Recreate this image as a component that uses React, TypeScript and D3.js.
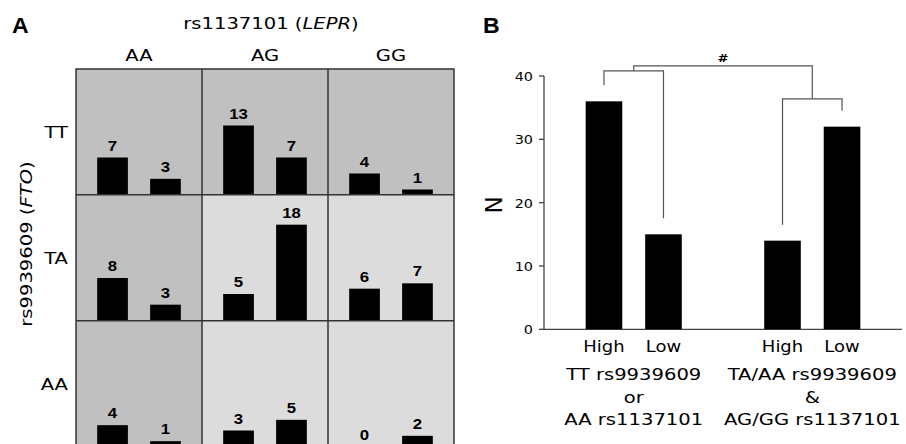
import React from "react";
import * as d3 from "d3";

// ---------- Data ----------
const rowGenotypes = ["TT", "TA", "AA"]; // rs9939609 (FTO)
const colGenotypes = ["AA", "AG", "GG"]; // rs1137101 (LEPR)
const highValues = [
  [7, 13, 4],
  [8, 5, 6],
  [4, 3, 0],
];
const lowValues = [
  [3, 7, 1],
  [3, 18, 7],
  [1, 5, 2],
];
const cellGroups = ["High", "Low"];

const bSlots = ["g1High", "g1Low", "gap", "g2High", "g2Low"];
const bLabels = ["High", "Low", "", "High", "Low"];
const bValues = [36, 15, null, 14, 32];
const bTicks = [0, 10, 20, 30, 40];
const groupLabels = [
  ["TT rs9939609", "or", "AA rs1137101"],
  ["TA/AA rs9939609", "&", "AG/GG rs1137101"],
];
const bracketLevels = [40.8, 36.4]; // inner brackets
const topBracketLevel = 41.6;

// ---------- Style ----------
const SX = 1.2;
const FONT = "'DejaVu Sans', Verdana, sans-serif";
const ARIAL = "'Liberation Sans', Arial, sans-serif";
const DARK = "#c0c0c0";
const LIGHT = "#dcdcdc";
const GRID = "#333";
const LINE = "#555";

function STxt({ x, y, size, anchor = "middle", weight = "normal", family = FONT, rotate = 0, sx = SX, fill = "#000", children }: any) {
  return (
    <text
      transform={`translate(${x},${y})${rotate ? ` rotate(${rotate})` : ""} scale(${sx},1)`}
      fontSize={size}
      textAnchor={anchor}
      fontWeight={weight}
      fontFamily={family}
      fill={fill}
    >
      {children}
    </text>
  );
}

export default function App() {
  // Panel A scales
  const xCol = d3.scaleBand<string>().domain(colGenotypes).range([76, 454]);
  const yRow = d3.scaleBand<string>().domain(rowGenotypes).range([69, 446.5]);
  const inner = d3
    .scaleBand<string>()
    .domain(cellGroups)
    .range([0, xCol.bandwidth()])
    .paddingInner(0.42)
    .paddingOuter(0.4);
  const hA = d3.scaleLinear().domain([0, 18]).range([0, 96]);

  // Panel B scales
  const xB = d3.scaleBand<string>().domain(bSlots).range([544, 902]).paddingInner(0.385).paddingOuter(0.7);
  const yB = d3.scaleLinear().domain([0, 40]).range([329.3, 76]);
  const cx = (k: string) => (xB(k) as number) + xB.bandwidth() / 2;
  const GAP = 16;

  const brackets = [
    { a: "g1High", b: "g1Low", level: bracketLevels[0] },
    { a: "g2High", b: "g2Low", level: bracketLevels[1] },
  ];
  const valOf = (k: string) => bValues[bSlots.indexOf(k)] as number;

  const mid0 = (cx(brackets[0].a) + cx(brackets[0].b)) / 2;
  const mid1 = (cx(brackets[1].a) + cx(brackets[1].b)) / 2;

  return (
    <svg width={906} height={444} style={{ position: "absolute", left: 0, top: 0, display: "block", background: "#fff" }}>
      {/* ---------- Panel A ---------- */}
      <STxt x={12} y={33} size={22} anchor="start" weight="bold" family={ARIAL} sx={1.05}>A</STxt>
      <STxt x={271} y={28.5} size={16.3}>
        rs1137101 (<tspan fontStyle="italic">LEPR</tspan>)
      </STxt>
      {colGenotypes.map((c) => (
        <STxt key={c} x={(xCol(c) as number) + xCol.bandwidth() / 2} y={61} size={16.3}>
          {c}
        </STxt>
      ))}
      {rowGenotypes.map((r) => (
        <STxt key={r} x={68} y={(yRow(r) as number) + yRow.bandwidth() / 2 + 6} size={16.3} anchor="end">
          {r}
        </STxt>
      ))}
      <STxt x={32} y={244} size={16.3} rotate={-90}>
        rs9939609 (<tspan fontStyle="italic">FTO</tspan>)
      </STxt>

      {rowGenotypes.map((r, ri) =>
        colGenotypes.map((c, ci) => {
          const x0 = xCol(c) as number;
          const y0 = yRow(r) as number;
          const base = y0 + yRow.bandwidth();
          const dark = ri === 0 || ci === 0;
          const vals = [highValues[ri][ci], lowValues[ri][ci]];
          return (
            <g key={r + c}>
              <rect x={x0} y={y0} width={xCol.bandwidth()} height={yRow.bandwidth()} fill={dark ? DARK : LIGHT} />
              {cellGroups.map((g, gi) => {
                const bx = x0 + (inner(g) as number);
                const h = hA(vals[gi]);
                return (
                  <g key={g}>
                    <rect x={bx} y={base - h} width={inner.bandwidth()} height={h} fill="#000" />
                    <STxt x={bx + inner.bandwidth() / 2} y={base - h - 7} size={14} weight="bold" family={ARIAL}>
                      {vals[gi]}
                    </STxt>
                  </g>
                );
              })}
            </g>
          );
        })
      )}
      {/* grid lines */}
      {colGenotypes.slice(1).map((c) => (
        <line key={"v" + c} x1={xCol(c)} x2={xCol(c)} y1={69} y2={446.5} stroke={GRID} strokeWidth={1.5} />
      ))}
      {rowGenotypes.slice(1).map((r) => (
        <line key={"h" + r} x1={76} x2={454} y1={yRow(r)} y2={yRow(r)} stroke={GRID} strokeWidth={1.5} />
      ))}
      <rect x={76} y={69} width={378} height={377.5} fill="none" stroke={GRID} strokeWidth={1.5} />

      {/* ---------- Panel B ---------- */}
      <STxt x={483} y={33} size={22} anchor="start" weight="bold" family={ARIAL} sx={1.05}>B</STxt>
      <STxt x={502} y={205} size={23} rotate={-90} sx={1}>N</STxt>

      {/* axes */}
      <line x1={544} x2={544} y1={yB(0)} y2={yB(40)} stroke="#444" strokeWidth={1.3} />
      <line x1={544} x2={902} y1={yB(0)} y2={yB(0)} stroke="#444" strokeWidth={1.3} />
      {bTicks.map((t) => (
        <g key={t}>
          <line x1={539} x2={544} y1={yB(t)} y2={yB(t)} stroke="#444" strokeWidth={1.3} />
          <STxt x={533} y={yB(t) + 5} size={12} anchor="end">
            {t}
          </STxt>
        </g>
      ))}

      {/* bars */}
      {bSlots.map((k, i) =>
        bValues[i] == null ? null : (
          <g key={k}>
            <rect
              x={xB(k)}
              y={yB(bValues[i] as number)}
              width={xB.bandwidth()}
              height={yB(0) - yB(bValues[i] as number)}
              fill="#000"
            />
            <STxt x={cx(k)} y={351.5} size={15}>
              {bLabels[i]}
            </STxt>
          </g>
        )
      )}

      {/* group labels */}
      {groupLabels.map((lines, gi) => {
        const a = gi === 0 ? "g1High" : "g2High";
        const b = gi === 0 ? "g1Low" : "g2Low";
        const mx = (cx(a) + cx(b)) / 2;
        return lines.map((t, li) => (
          <STxt key={gi + "-" + li} x={mx} y={380 + li * 22.5} size={16.3}>
            {t}
          </STxt>
        ));
      })}

      {/* brackets */}
      {brackets.map((br, i) => {
        const ly = yB(br.level);
        const xa = cx(br.a);
        const xb = cx(br.b);
        return (
          <path
            key={i}
            d={`M${xa},${yB(valOf(br.a)) - GAP}V${ly}H${xb}V${yB(valOf(br.b)) - GAP}`}
            fill="none"
            stroke={LINE}
            strokeWidth={1.2}
          />
        );
      })}
      <path
        d={`M${mid0},${yB(bracketLevels[0])}V${yB(topBracketLevel)}H${mid1}V${yB(bracketLevels[1])}`}
        fill="none"
        stroke={LINE}
        strokeWidth={1.2}
      />
      <STxt x={(mid0 + mid1) / 2} y={62} size={11} weight="bold">
        #
      </STxt>
    </svg>
  );
}
